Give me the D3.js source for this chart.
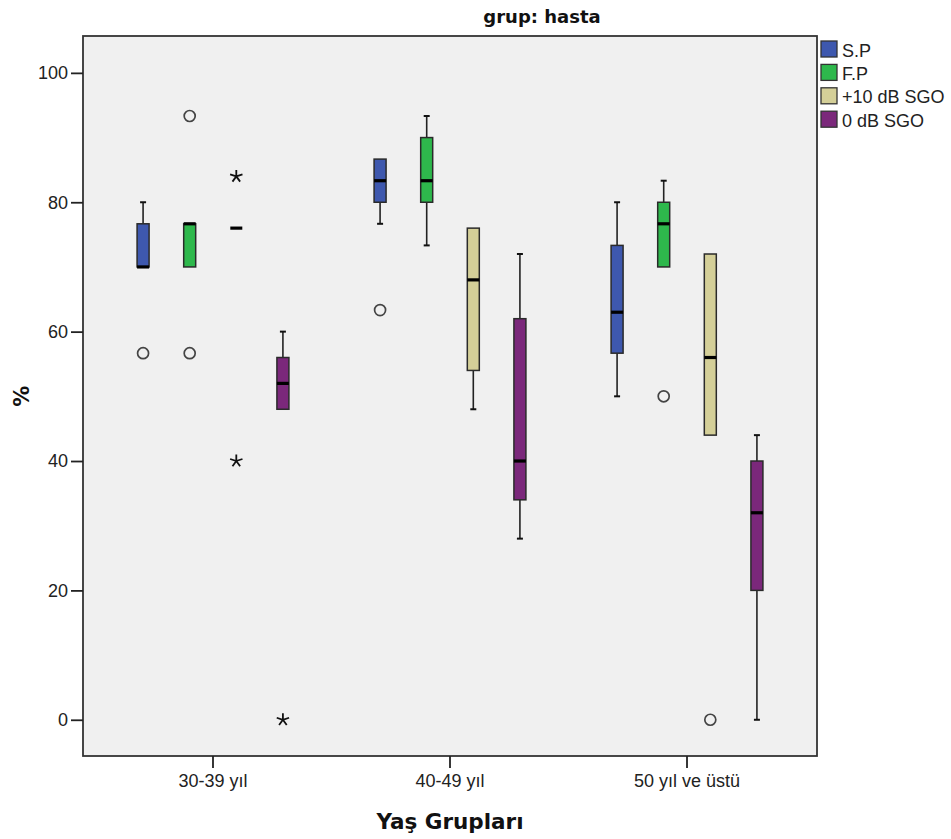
<!DOCTYPE html>
<html>
<head>
<meta charset="utf-8">
<script src="https://cdn.jsdelivr.net/npm/d3@7"></script>
<style>
  html, body { margin: 0; padding: 0; background: #fff; }
  svg { display: block; }
</style>
</head>
<body>
<div id="chart"></div>
<script>
/* ================================================
   Boxplot: grup hasta — % by age group
   ================================================ */

var CATEGORIES = ['30-39 yıl', '40-49 yıl', '50 yıl ve üstü'];
var SERIES = ['S.P', 'F.P', '+10 dB SGO', '0 dB SGO'];
var COLORS = ['#3e58ae', '#2eb84c', '#d4cf98', '#7b287b'];
var Y_TICKS = [0, 20, 40, 60, 80, 100];

// rows = category, columns = series
var MIN_VALS = [
  [70, 70, 76, 48],
  [76.67, 73.33, 48, 28],
  [50, 70, 44, 0]
];
var Q1_VALS = [
  [70, 70, 76, 48],
  [80, 80, 54, 34],
  [56.67, 70, 44, 20]
];
var MED_VALS = [
  [70, 76.67, 76, 52],
  [83.33, 83.33, 68, 40],
  [63, 76.67, 56, 32]
];
var Q3_VALS = [
  [76.67, 76.67, 76, 56],
  [86.67, 90, 76, 62],
  [73.33, 80, 72, 40]
];
var MAX_VALS = [
  [80, 76.67, 76, 60],
  [86.67, 93.33, 76, 72],
  [80, 83.33, 72, 44]
];
// [category index, series index, value, kind]
var OUTLIERS = [
  [0, 0, 56.67, 'o'],
  [0, 1, 93.33, 'o'],
  [0, 1, 56.67, 'o'],
  [0, 2, 84, '*'],
  [0, 2, 40, '*'],
  [0, 3, 0, '*'],
  [1, 0, 63.33, 'o'],
  [2, 1, 50, 'o'],
  [2, 2, 0, 'o']
];

var W = 951, H = 839;
var margin = { top: 36, right: 134, bottom: 83, left: 83 };
var width = W - margin.left - margin.right;
var height = H - margin.top - margin.bottom;

var svg = d3.select('#chart').append('svg')
  .attr('width', W).attr('height', H);

var g = svg.append('g')
  .attr('transform', 'translate(' + margin.left + ',' + margin.top + ')');

var x = d3.scaleBand()
  .domain(CATEGORIES)
  .range([0, width])
  .paddingInner(0)
  .paddingOuter(0.0485);

var sub = d3.scalePoint()
  .domain(SERIES)
  .range([-0.295 * x.step(), 0.295 * x.step()]);

var y = d3.scaleLinear()
  .domain([-5.6, 105.7])
  .range([height, 0]);

var boxW = 12, capW = 6;

// plot background
g.append('rect')
  .attr('x', 0).attr('y', 0)
  .attr('width', width).attr('height', height)
  .attr('fill', '#f0f0f0');

function cx(ci, si) {
  return x(CATEGORIES[ci]) + x.bandwidth() / 2 + sub(SERIES[si]);
}

// boxes
CATEGORIES.forEach(function(cat, ci) {
  SERIES.forEach(function(s, si) {
    var c = cx(ci, si);
    var lo = MIN_VALS[ci][si], q1 = Q1_VALS[ci][si], md = MED_VALS[ci][si],
        q3 = Q3_VALS[ci][si], hi = MAX_VALS[ci][si];

    // whiskers
    if (hi > q3) {
      g.append('line').attr('x1', c).attr('x2', c)
        .attr('y1', y(hi)).attr('y2', y(q3))
        .attr('stroke', '#222').attr('stroke-width', 1.6);
      g.append('line').attr('x1', c - capW / 2).attr('x2', c + capW / 2)
        .attr('y1', y(hi)).attr('y2', y(hi))
        .attr('stroke', '#111').attr('stroke-width', 2);
    }
    if (lo < q1) {
      g.append('line').attr('x1', c).attr('x2', c)
        .attr('y1', y(q1)).attr('y2', y(lo))
        .attr('stroke', '#222').attr('stroke-width', 1.6);
      g.append('line').attr('x1', c - capW / 2).attr('x2', c + capW / 2)
        .attr('y1', y(lo)).attr('y2', y(lo))
        .attr('stroke', '#111').attr('stroke-width', 2);
    }

    // box
    if (q3 > q1) {
      g.append('rect')
        .attr('x', c - boxW / 2).attr('y', y(q3))
        .attr('width', boxW).attr('height', y(q1) - y(q3))
        .attr('fill', COLORS[si])
        .attr('stroke', '#2a2a2a').attr('stroke-width', 1.5);
    }

    // median
    g.append('line')
      .attr('x1', c - boxW / 2).attr('x2', c + boxW / 2)
      .attr('y1', y(md)).attr('y2', y(md))
      .attr('stroke', '#000').attr('stroke-width', 3.2);
  });
});

// outliers
var starPath = (function() {
  var p = d3.path(), r = 6.5;
  for (var k = 0; k < 5; k++) {
    var a = -Math.PI / 2 + k * 2 * Math.PI / 5;
    p.moveTo(0, 0);
    p.lineTo(r * Math.cos(a), r * Math.sin(a));
  }
  return p.toString();
})();

OUTLIERS.forEach(function(o) {
  var c = cx(o[0], o[1]), yy = y(o[2]);
  if (o[3] === 'o') {
    g.append('circle')
      .attr('cx', c).attr('cy', yy).attr('r', 5.5)
      .attr('fill', 'none')
      .attr('stroke', '#444').attr('stroke-width', 1.7);
  } else {
    g.append('path')
      .attr('d', starPath)
      .attr('transform', 'translate(' + c + ',' + yy + ')')
      .attr('fill', 'none')
      .attr('stroke', '#111').attr('stroke-width', 1.8);
  }
});

// frame
g.append('rect')
  .attr('x', 0).attr('y', 0)
  .attr('width', width).attr('height', height)
  .attr('fill', 'none')
  .attr('stroke', '#333').attr('stroke-width', 1.8);

// y axis
g.append('g')
  .call(d3.axisLeft(y).tickValues(Y_TICKS).tickSize(12).tickPadding(3))
  .call(function(a) {
    a.select('.domain').remove();
    a.selectAll('line').attr('stroke', '#222').attr('stroke-width', 1.8);
    a.selectAll('text')
      .attr('fill', '#222')
      .attr('font-family', '"Liberation Sans", Arial, sans-serif')
      .attr('font-size', 18);
  });

// x axis
g.append('g')
  .attr('transform', 'translate(0,' + height + ')')
  .call(d3.axisBottom(x).tickSize(12).tickPadding(6))
  .call(function(a) {
    a.select('.domain').remove();
    a.selectAll('line').attr('stroke', '#222').attr('stroke-width', 1.8);
    a.selectAll('text')
      .attr('fill', '#222')
      .attr('font-family', '"Liberation Sans", Arial, sans-serif')
      .attr('font-size', 18);
  });

// titles
svg.append('text')
  .attr('x', 542).attr('y', 23)
  .attr('text-anchor', 'middle')
  .attr('font-family', '"DejaVu Sans", Verdana, sans-serif')
  .attr('font-weight', 'bold')
  .attr('font-size', 18)
  .attr('fill', '#111')
  .text('grup: hasta');

svg.append('text')
  .attr('x', margin.left + width / 2).attr('y', 829)
  .attr('text-anchor', 'middle')
  .attr('font-family', '"DejaVu Sans", Verdana, sans-serif')
  .attr('font-weight', 'bold')
  .attr('font-size', 21.5)
  .attr('fill', '#111')
  .text('Yaş Grupları');

svg.append('text')
  .attr('transform', 'translate(29,' + (margin.top + y(50)) + ') rotate(-90)')
  .attr('text-anchor', 'middle')
  .attr('font-family', '"DejaVu Sans", Verdana, sans-serif')
  .attr('font-weight', 'bold')
  .attr('font-size', 21)
  .attr('fill', '#111')
  .text('%');

// legend
var legend = svg.append('g')
  .attr('transform', 'translate(' + (margin.left + width + 4) + ',41)');

SERIES.forEach(function(s, i) {
  var row = legend.append('g').attr('transform', 'translate(0,' + (i * 23.4) + ')');
  row.append('rect')
    .attr('x', 0).attr('y', 0)
    .attr('width', 16).attr('height', 16)
    .attr('fill', COLORS[i])
    .attr('stroke', '#333').attr('stroke-width', 1.3);
  row.append('text')
    .attr('x', 21).attr('y', 15.5)
    .attr('font-family', '"Liberation Sans", Arial, sans-serif')
    .attr('font-size', 18)
    .attr('fill', '#222')
    .text(s);
});
</script>
</body>
</html>
